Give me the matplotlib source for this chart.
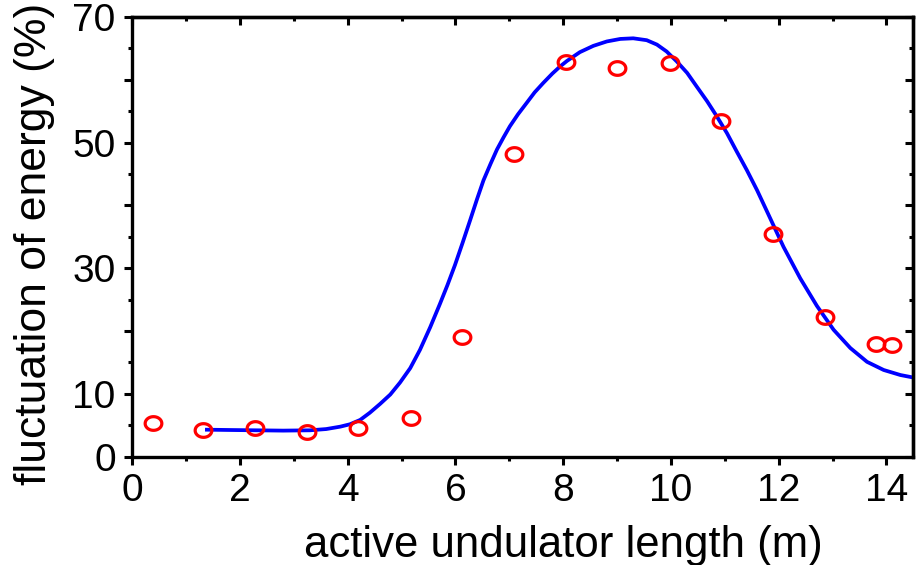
import numpy as np
import matplotlib
matplotlib.use("Agg")
import matplotlib.pyplot as plt
from matplotlib.path import Path
from matplotlib.ticker import FixedLocator, MultipleLocator, FixedFormatter

plt.rcParams['font.family'] = ['Liberation Sans', 'DejaVu Sans']

# measured points (red circles)
meas_x = [0.38, 1.31, 2.28, 3.25, 4.19, 5.17, 6.12, 7.08, 8.05, 9.00, 9.98, 10.93, 11.90, 12.86, 13.81, 14.10]
meas_y = [5.4, 4.3, 4.6, 4.0, 4.6, 6.2, 19.0, 48.2, 62.9, 61.9, 62.6, 53.5, 35.4, 22.3, 18.0, 17.8]

# simulated curve (blue line)
sim_x = [1.35, 1.8, 2.3, 2.8, 3.3, 3.6, 3.86, 4.04, 4.23, 4.41, 4.60, 4.79, 4.97, 5.16,
         5.34, 5.53, 5.71, 5.85, 5.99, 6.13, 6.27, 6.40, 6.52, 6.65, 6.77, 6.89, 7.01,
         7.16, 7.32, 7.47, 7.63, 7.80, 7.94, 8.07, 8.31, 8.56, 8.81, 9.06, 9.30, 9.55,
         9.74, 9.92, 10.11, 10.30, 10.48, 10.67, 10.85, 11.04, 11.22, 11.41, 11.60,
         11.78, 11.97, 12.09, 12.40, 12.71, 13.02, 13.33, 13.64, 13.95, 14.26, 14.50]
sim_y = [4.3, 4.25, 4.2, 4.15, 4.2, 4.4, 4.78, 5.16, 5.85, 7.0, 8.4, 9.9, 11.8, 14.1,
         17.0, 20.6, 24.3, 27.3, 30.5, 34.0, 37.6, 41.0, 44.0, 46.6, 48.9, 50.8, 52.6,
         54.5, 56.3, 58.0, 59.5, 61.0, 62.1, 63.0, 64.4, 65.4, 66.1, 66.5, 66.6, 66.3,
         65.6, 64.5, 62.9, 61.1, 58.9, 56.6, 54.2, 51.5, 48.6, 45.6, 42.4,
         39.1, 35.6, 33.4, 28.4, 24.0, 20.2, 17.3, 15.1, 13.8, 13.0, 12.6]

y_ticks = [0, 10, 20, 30, 40, 50, 60, 70]
y_labels = ['0', '10', '', '30', '', '50', '', '70']

fig = plt.figure(figsize=(9.22, 5.65), dpi=100)
ax = fig.add_axes([0.1435, 0.1917, 0.8471, 0.7783])

# slightly flattened circle marker
t = np.linspace(0, 2 * np.pi, 60)
ell = Path(np.column_stack([np.cos(t), 0.82 * np.sin(t)]), closed=True)

ax.plot(sim_x, sim_y, color='#0000ff', lw=2.7, solid_capstyle='butt',
        solid_joinstyle='round', zorder=2)
ax.plot(meas_x, meas_y, ls='none', marker=ell, ms=12, mfc='none', mec='#ff0000',
        mew=2.3, zorder=3)

ax.set_xlim(0, 14.5)
ax.set_ylim(0, 70)

ax.xaxis.set_major_locator(MultipleLocator(2))
ax.xaxis.set_minor_locator(MultipleLocator(1))
ax.yaxis.set_major_locator(FixedLocator(y_ticks))
ax.yaxis.set_major_formatter(FixedFormatter(y_labels))
ax.yaxis.set_minor_locator(MultipleLocator(5))

for s in ax.spines.values():
    s.set_linewidth(2.4)

ax.tick_params(which='both', direction='out', width=2.2, labelsize=28, top=False, right=False)
ax.tick_params(which='major', length=6, pad=6)
ax.tick_params(which='minor', length=3)

# inward ticks on top and right
secx = ax.secondary_xaxis('top')
secx.xaxis.set_major_locator(MultipleLocator(2))
secx.xaxis.set_minor_locator(MultipleLocator(1))
secx.tick_params(which='both', direction='in', width=2.2, labeltop=False)
secx.tick_params(which='major', length=6)
secx.tick_params(which='minor', length=3)
secx.spines['top'].set_linewidth(2.4)

secy = ax.secondary_yaxis('right')
secy.yaxis.set_major_locator(FixedLocator(y_ticks))
secy.yaxis.set_minor_locator(MultipleLocator(5))
secy.tick_params(which='both', direction='in', width=2.2, labelright=False)
secy.tick_params(which='major', length=6)
secy.tick_params(which='minor', length=3)
secy.spines['right'].set_linewidth(2.4)

fig.text(563 / 922, 1 - 545 / 565, 'active undulator length (m)', fontsize=31.5,
         ha='center', va='center')
fig.text(35 / 922, 1 - 244 / 565, 'fluctuation of energy (%)', fontsize=32,
         ha='center', va='center', rotation=90)

fig.savefig('out.png', dpi=100)
